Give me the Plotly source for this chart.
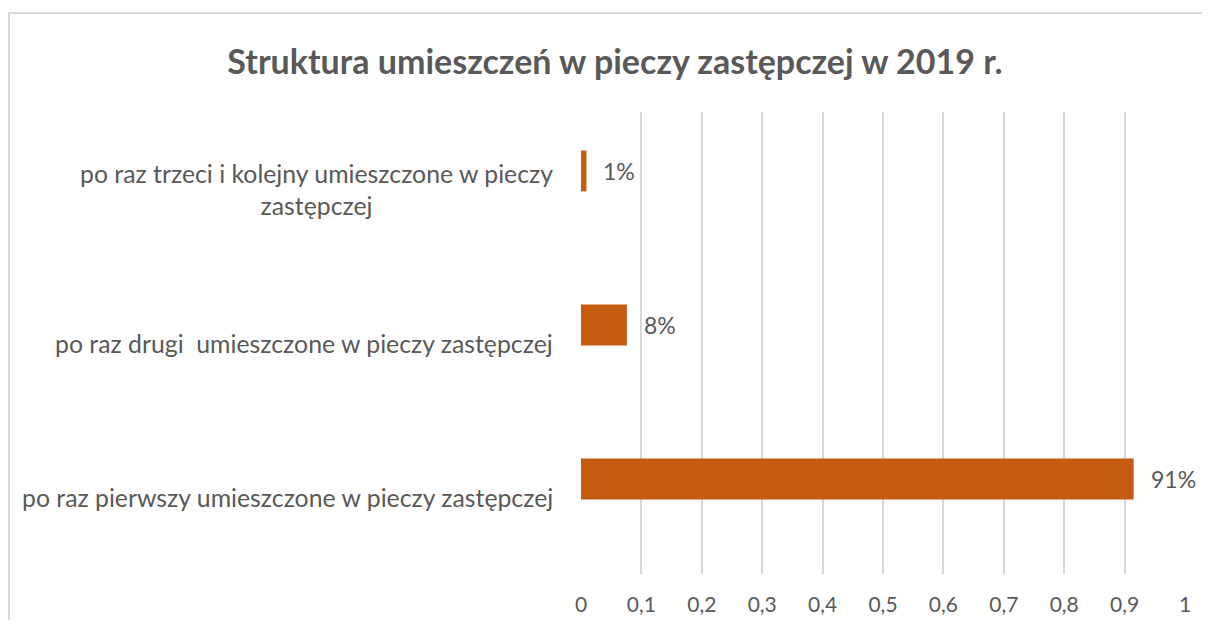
import plotly.graph_objects as go

categories = [
    "po raz pierwszy umieszczone w pieczy zastępczej",
    "po raz drugi  umieszczone w pieczy zastępczej",
    "po raz trzeci i kolejny umieszczone w pieczy<br>zastępczej",
]
values = [0.915, 0.076, 0.009]
value_labels = ["91%", "8%", "1%"]
title_text = "Struktura umieszczeń w pieczy zastępczej w 2019 r."

TEXT = "#595959"
GRID = "#d9d9d9"
FONT = "Lato"
BAR_SHIFT = 0.117  # bars sit slightly above category centre
BAR_W = 0.265

W, H = 1194, 612
L, T = 573, 104
PW, PH = 604, 462

fig = go.Figure(
    go.Bar(
        y=list(range(len(categories))),
        x=values,
        orientation="h",
        marker=dict(color="#C55A11", line=dict(width=0)),
        width=BAR_W,
        offset=BAR_SHIFT - BAR_W / 2,
        hoverinfo="x+y",
    )
)

annotations = [
    dict(
        x=0, xref="paper", y=i, yref="y",
        text=c, showarrow=False, xanchor="right", yanchor="middle",
        xshift=-26, align="center",
        font=dict(family=FONT, size=24.8, color=TEXT),
    )
    for i, c in enumerate(categories)
]
annotations += [
    dict(
        x=v, xref="x", y=i + BAR_SHIFT, yref="y",
        text=lab, showarrow=False, xanchor="left", yanchor="middle",
        xshift=15,
        font=dict(family=FONT, size=23, color=TEXT),
    )
    for i, (v, lab) in enumerate(zip(values, value_labels))
]

fig.update_layout(
    width=W, height=H,
    margin=dict(l=L, r=W - L - PW, t=T, b=H - T - PH, autoexpand=False),
    paper_bgcolor="white", plot_bgcolor="white",
    separators=", ",
    showlegend=False,
    title=dict(
        text=title_text, x=607 / W, xanchor="center", y=1 - 54 / H, yanchor="middle",
        font=dict(family=FONT, size=34, color=TEXT, weight="bold"),
    ),
    xaxis=dict(
        range=[0, 1], dtick=0.1, tick0=0,
        showgrid=True, gridcolor=GRID, gridwidth=2,
        zeroline=False, showline=False, automargin=False,
        tickfont=dict(family=FONT, size=21, color=TEXT),
        ticklabelstandoff=16, ticks="",
    ),
    yaxis=dict(
        range=[-0.5, 2.5], showticklabels=False, showgrid=False,
        zeroline=False, showline=False, ticks="", automargin=False,
    ),
    annotations=annotations,
    shapes=[
        dict(
            type="rect", xref="paper", yref="paper",
            x0=(1 - L) / PW, x1=(W + 20 - L) / PW,
            y0=-(H + 20 - T - PH) / PH, y1=(T + PH - 5) / PH,
            line=dict(color=GRID, width=2), fillcolor="rgba(0,0,0,0)",
            layer="below",
        )
    ],
)

fig.write_html("out.html")
